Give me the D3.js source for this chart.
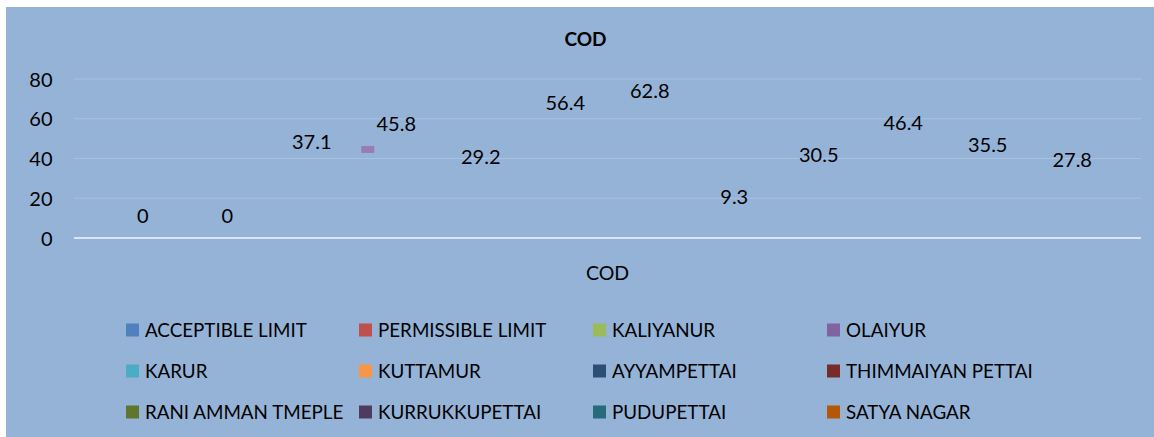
<!DOCTYPE html>
<html>
<head>
<meta charset="utf-8">
<script src="https://cdn.jsdelivr.net/npm/d3@7"></script>
<style>
  html, body { margin: 0; padding: 0; background: #ffffff; }
  svg { display: block; }
  text { font-family: Lato, "Open Sans", sans-serif; fill: #000; }
</style>
</head>
<body>
<svg id="chart" width="1154" height="437"></svg>
<script>
// ---- data ----
const category = "COD";
const seriesNames = ["ACCEPTIBLE LIMIT", "PERMISSIBLE LIMIT", "KALIYANUR", "OLAIYUR",
  "KARUR", "KUTTAMUR", "AYYAMPETTAI", "THIMMAIYAN PETTAI",
  "RANI AMMAN TMEPLE", "KURRUKKUPETTAI", "PUDUPETTAI", "SATYA NAGAR"];
const seriesValues = [0, 0, 37.1, 45.8, 29.2, 56.4, 62.8, 9.3, 30.5, 46.4, 35.5, 27.8];
const seriesColors = ["#4F81BD", "#C0504D", "#9BBB59", "#8064A2",
  "#4BACC6", "#F79646", "#2C4D75", "#772C2A",
  "#5F7530", "#4D3B62", "#276A7C", "#B65708"];
const yTicks = [0, 20, 40, 60, 80];
const visibleMarker = "OLAIYUR"; // only mark fragment visible in the picture

// ---- layout ----
const svg = d3.select("#chart");
const W = 1154, H = 437;
const plot = { left: 74, right: 1141, top: 79, bottom: 238 };

svg.append("rect").attr("x", 6).attr("y", 7).attr("width", W - 6).attr("height", H - 7)
  .attr("fill", "#95B3D7");

const y = d3.scaleLinear().domain([0, 80]).range([plot.bottom, plot.top]);
const xCat = d3.scaleBand().domain([category]).range([plot.left, plot.right]).padding(0);
const xSer = d3.scaleBand().domain(seriesNames)
  .range([xCat(category), xCat(category) + xCat.bandwidth()])
  .paddingInner(0).paddingOuter(0.314);

// gridlines
svg.append("g").selectAll("line").data(yTicks.filter(d => d !== 0)).join("line")
  .attr("x1", plot.left).attr("x2", plot.right)
  .attr("y1", d => y(d)).attr("y2", d => y(d))
  .attr("stroke", "#A9C1DF").attr("stroke-width", 1);

// y axis labels
const yAxis = d3.axisLeft(y).tickValues(yTicks).tickSize(0).tickPadding(0);
const gy = svg.append("g").attr("transform", `translate(52.5,0)`).call(yAxis);
gy.select(".domain").remove();
gy.selectAll("text").attr("font-size", 20).attr("font-family", "Lato, sans-serif")
  .attr("fill", "#000").attr("dy", "0.35em").attr("x", 0);

// zero axis line
svg.append("line").attr("x1", plot.left).attr("x2", plot.right)
  .attr("y1", y(0)).attr("y2", y(0))
  .attr("stroke", "#DCE6F2").attr("stroke-width", 2);

// visible bar fragment
const ms = seriesNames.indexOf(visibleMarker);
svg.append("rect")
  .attr("x", xSer(visibleMarker) + xSer.bandwidth() / 2 - 35)
  .attr("y", y(seriesValues[ms]) - 1)
  .attr("width", 13).attr("height", 7)
  .attr("fill", "#9A7BB6");

// data labels
svg.append("g").selectAll("text").data(seriesNames).join("text")
  .attr("x", d => xSer(d) + xSer.bandwidth() / 2)
  .attr("y", (d, i) => y(seriesValues[i]) - 22.5)
  .attr("dy", "0.35em")
  .attr("text-anchor", "middle")
  .attr("font-size", 20)
  .text((d, i) => seriesValues[i]);

// title
svg.append("text").attr("x", 585.5).attr("y", 39).attr("dy", "0.35em")
  .attr("text-anchor", "middle").attr("font-size", 19).attr("font-weight", "bold")
  .text("COD");

// category axis label
svg.append("text").attr("x", xCat(category) + xCat.bandwidth() / 2).attr("y", 273)
  .attr("dy", "0.35em").attr("text-anchor", "middle").attr("font-size", 19.5)
  .text(category);

// legend
const legCols = [126, 359, 593, 827];
const legRows = [330, 371, 412];
const leg = svg.append("g").selectAll("g").data(seriesNames).join("g")
  .attr("transform", (d, i) => `translate(${legCols[i % 4]},${legRows[Math.floor(i / 4)]})`);
leg.append("rect").attr("x", 0).attr("y", -6.5).attr("width", 13).attr("height", 13)
  .attr("fill", (d, i) => seriesColors[i]);
leg.append("text").attr("x", 19).attr("y", 0).attr("dy", "0.35em")
  .attr("font-size", 18.8).text(d => d);
</script>
</body>
</html>
